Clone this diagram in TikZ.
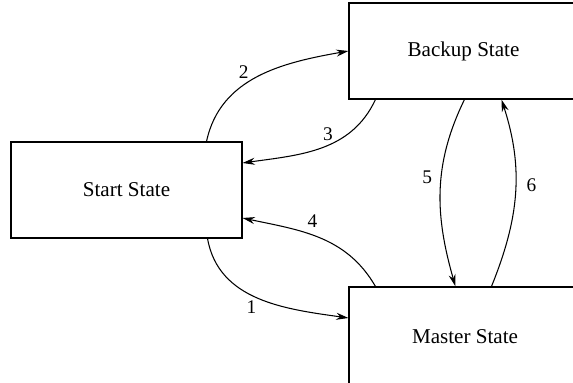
\documentclass[tikz,border=0pt]{standalone}
\usepackage{fontspec}
\setmainfont{Liberation Serif}
\usetikzlibrary{arrows.meta,positioning}

\begin{document}
\begin{tikzpicture}[->,>={Stealth[length=7pt,width=4pt]},line width=0.6pt,
  state box/.style={rectangle,draw,minimum height=1.92cm,inner sep=0pt,font=\fontsize{12}{14}\selectfont},
  num/.style={font=\fontsize{11}{13}\selectfont,inner sep=1pt}]
  \useasboundingbox (0,0) rectangle (11.46,7.66);
  \clip (0,0) rectangle (11.46,7.66);
   \node[state box,minimum width=4.62cm] (start)  at (2.53,3.86) {Start State};
   \node[state box,minimum width=4.58cm] (backup) at (9.27,6.64) {Backup State};
   \node[state box,minimum width=4.64cm,minimum height=2cm] (master) at (9.30,0.92) {Master State};
    \path[->]
    ([xshift=-0.70cm]start.south east) edge [out=-80,in=172] node[num,pos=0.5,below left] {1} ([yshift=0.38cm]master.west)
    ([xshift=-0.72cm]start.north east) edge [out=78,in=190] node[num,pos=0.45,above left] {2} (backup.west)
    ([xshift=0.54cm]backup.south west) edge [out=-115,in=8]  node[num,pos=0.45,above=1pt] {3} ([yshift=0.54cm]start.east)
    ([xshift=0.54cm]master.north west) edge [out=120,in=-12] node[num,pos=0.62,above right=2pt] {4} ([yshift=-0.56cm]start.east)
    ([xshift=2.32cm]backup.south west) edge [out=-116,in=106] node[num,pos=0.42,left=4pt] {5} ([xshift=2.14cm]master.north west)
    ([xshift=2.86cm]master.north west) edge [out=68,in=-72]  node[num,pos=0.55,right=5pt] {6} ([xshift=3.06cm]backup.south west);
\end{tikzpicture}
\end{document}
